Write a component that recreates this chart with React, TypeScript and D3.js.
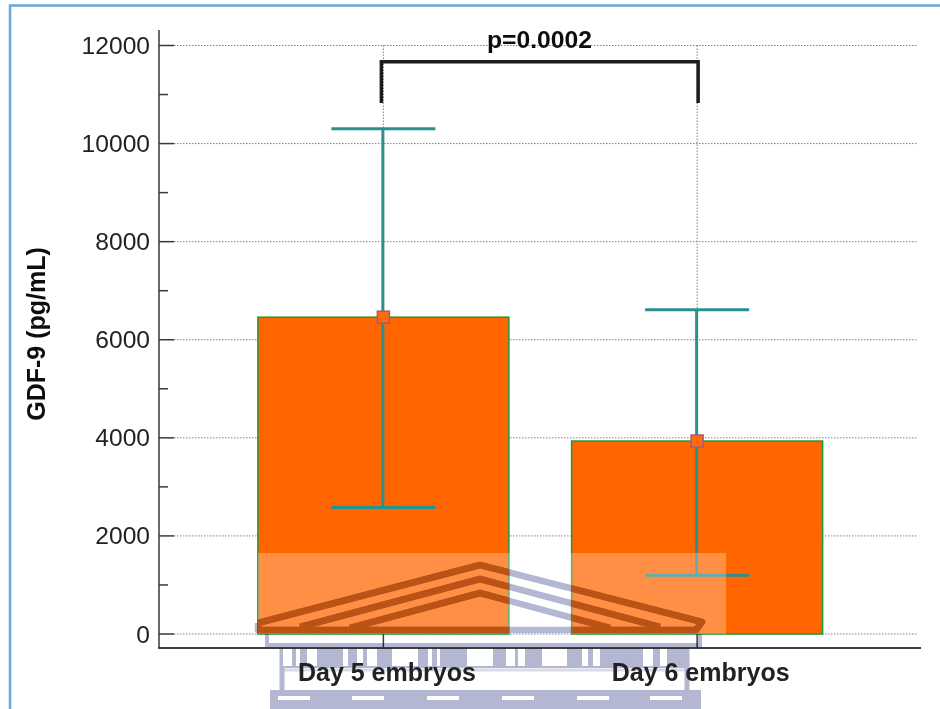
import React from "react";
import * as d3 from "d3";

const categories = ["Day 5 embryos", "Day 6 embryos"];
const means = [6460, 3935];
const upper = [10300, 6610];
const lower = [2580, 1200];
const majorTicks = [0, 2000, 4000, 6000, 8000, 10000, 12000];
const minorTicks = [1000, 3000, 5000, 7000, 9000, 11000];
const bracketTop = 11670;
const bracketBottom = 10830;
const pLabel = "p=0.0002";
const yTitle = "GDF-9 (pg/mL)";

const FONT = "'Liberation Sans', Arial, sans-serif";
const AXIS = "#3a3a3a";
const TEAL = "#2b8f8f";
const WM = "#b4b7d2";
const WM_ON_BAR = "#bb5212";

const y = d3.scaleLinear().domain([0, 12000]).range([634, 45.5]);
const x = d3.scaleBand<string>().domain(categories).range([226.5, 854]).paddingInner(0.2).paddingOuter(0.1);
const cx = (c: string) => (x(c) as number) + x.bandwidth() / 2;

const chevron = d3.line();
const roofs: [number, number][][] = [
  [[258, 623], [480, 565], [702, 622], [696, 630], [258, 630], [258, 623]],
  [[300, 627], [480, 579], [660, 627]],
  [[350, 628], [480, 593], [610, 628]],
];
const slotXs = [278, 352, 427, 502, 577, 650];
const columnGaps = [
  [283, 9], [296, 4], [307, 10], [343, 5], [357, 6], [367, 10], [392, 26], [428, 4], [437, 3],
  [467, 26], [506, 9], [518, 7], [542, 25], [582, 6], [593, 7], [643, 10], [660, 7],
];

export default function App() {
  const Roof = ({ color }: { color: string }) => (
    <g>
      {roofs.map((r, i) => (
        <path key={i} d={chevron(r) as string} fill="none" stroke={color} strokeWidth={6.5} strokeLinejoin="round" />
      ))}
    </g>
  );
  return (
    <svg
      width={940}
      height={709}
      style={{ position: "fixed", left: 0, top: 0, background: "#fff", fontFamily: FONT }}
    >
      <defs>
        <filter id="soft" x="-2%" y="-2%" width="104%" height="104%">
          <feGaussianBlur stdDeviation={0.45} />
        </filter>
        <clipPath id="barsClip">
          {categories.map((c, i) => (
            <rect key={c} x={x(c)} y={y(means[i])} width={x.bandwidth()} height={y(0) - y(means[i])} />
          ))}
        </clipPath>
      </defs>
      <g filter="url(#soft)">
        <rect width={940} height={709} fill="#fff" />
        {/* frame */}
        <path d="M10 709V5.5H940" fill="none" stroke="#6aa5dc" strokeWidth={2.5} />

        {/* grid */}
        {majorTicks.map((t) => (
          <line key={t} x1={174} x2={917} y1={y(t)} y2={y(t)} stroke="#808080" strokeWidth={1} strokeDasharray="1.5 1.5" />
        ))}
        {categories.map((c) => (
          <line key={c} x1={cx(c)} x2={cx(c)} y1={y(12000)} y2={y(0)} stroke="#808080" strokeWidth={1} strokeDasharray="1.5 1.5" />
        ))}

        {/* bars */}
        {categories.map((c, i) => (
          <rect
            key={c}
            x={x(c)}
            y={y(means[i])}
            width={x.bandwidth()}
            height={y(0) - y(means[i])}
            fill="#ff6600"
            stroke="#1e9a32"
            strokeWidth={1.5}
          />
        ))}

        {/* axes */}
        <line x1={159} x2={159} y1={30} y2={648} stroke={AXIS} strokeWidth={1.5} />
        <line x1={158} x2={921} y1={648} y2={648} stroke="#222" strokeWidth={1.5} />
        {majorTicks.map((t) => (
          <g key={t}>
            <line x1={159} x2={174} y1={y(t)} y2={y(t)} stroke={AXIS} strokeWidth={1.5} />
            <text x={150} y={y(t) + 8.5} textAnchor="end" fontSize={24.6} fill="#222">
              {t}
            </text>
          </g>
        ))}
        {minorTicks.map((t) => (
          <line key={t} x1={159} x2={168} y1={y(t)} y2={y(t)} stroke={AXIS} strokeWidth={1.5} />
        ))}
        {categories.map((c) => (
          <line key={c} x1={cx(c)} x2={cx(c)} y1={y(0)} y2={648} stroke={AXIS} strokeWidth={1.5} />
        ))}

        {/* error bars */}
        {categories.map((c, i) => (
          <g key={c} stroke={TEAL} strokeWidth={3}>
            <line x1={cx(c) - 0.5} x2={cx(c) - 0.5} y1={y(upper[i])} y2={y(lower[i])} />
            <line x1={cx(c) - 52} x2={cx(c) + 52} y1={y(upper[i])} y2={y(upper[i])} />
            <line x1={cx(c) - 52} x2={cx(c) + 52} y1={y(lower[i])} y2={y(lower[i])} />
          </g>
        ))}
        {categories.map((c, i) => (
          <rect
            key={c}
            x={cx(c) - 6}
            y={y(means[i]) - 6}
            width={12}
            height={12}
            fill="#ff6a10"
            stroke="#a8587a"
            strokeWidth={1.5}
          />
        ))}

        {/* significance bracket */}
        <path
          d={
            d3.line()([
              [cx(categories[0]) - 2, y(bracketBottom)],
              [cx(categories[0]) - 2, y(bracketTop)],
              [cx(categories[1]) + 1, y(bracketTop)],
              [cx(categories[1]) + 1, y(bracketBottom)],
            ]) as string
          }
          fill="none"
          stroke="#1a1a1a"
          strokeWidth={3.5}
        />

        {/* watermark */}
        <rect x={258} y={553} width={468} height={81} fill="#fff" opacity={0.27} />
        <g style={{ mixBlendMode: "multiply" }}>
          <Roof color={WM} />
          <path d="M267 634V645H700V634" fill="none" stroke={WM} strokeWidth={4} />
          <path d="M282 648V690M687 648V690" fill="none" stroke={WM} strokeWidth={5} />
          <path d="M282 670H687" fill="none" stroke={WM} strokeWidth={3} opacity={0.5} />
          <g fill={WM}>
            <rect x={284} y={648} width={402} height={20} />
            <rect x={270} y={690} width={431} height={19} />
          </g>
          <g fill="#fff">
            {columnGaps.map(([gx, gw]) => (
              <rect key={gx} x={gx} y={648} width={gw} height={18} />
            ))}
            {slotXs.map((sx) => (
              <rect key={sx} x={sx} y={696} width={32} height={4} />
            ))}
          </g>
        </g>
        <g clipPath="url(#barsClip)">
          <Roof color={WM_ON_BAR} />
        </g>
        <line x1={159} x2={921} y1={648} y2={648} stroke="#222" strokeWidth={1.2} />

        {/* text */}
        {categories.map((c) => (
          <text key={c} x={cx(c) + 3.5} y={680.5} textAnchor="middle" fontSize={25} fontWeight={700} fill="#222">
            {c}
          </text>
        ))}
        <text
          transform="translate(45,334) rotate(-90)"
          textAnchor="middle"
          fontSize={25}
          fontWeight={700}
          fill="#111"
        >
          {yTitle}
        </text>
        <text x={539.5} y={48} textAnchor="middle" fontSize={24.7} fontWeight={700} fill="#111">
          {pLabel}
        </text>
      </g>
    </svg>
  );
}
